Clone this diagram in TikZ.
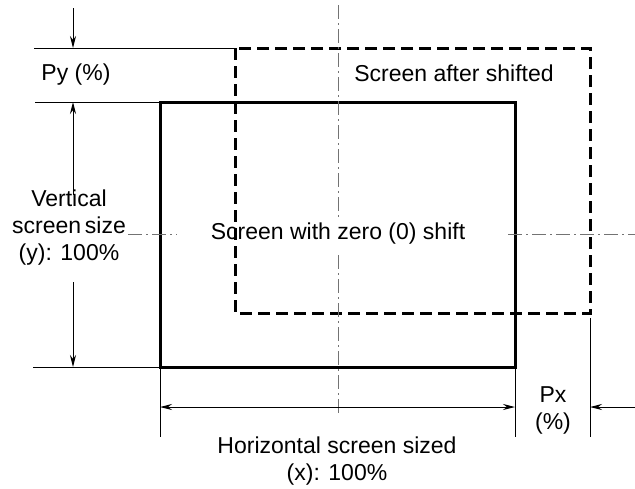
\documentclass[tikz,border=0pt]{standalone}
\usepackage{fontspec}
\setmainfont{Liberation Sans}
\usetikzlibrary{arrows.meta}
\begin{document}
\begin{tikzpicture}[x=1pt,y=-1pt,
  thinln/.style={line width=1pt},
  thickln/.style={line width=3pt},
  dashln/.style={line width=3pt, dash pattern=on 12pt off 6pt},
  axisln/.style={line width=1pt, black!55, dash pattern=on 14pt off 4pt on 2pt off 4pt},
  arr/.style={thinln,-{Stealth[length=12pt,width=6pt]}},
  dblarr/.style={thinln,{Stealth[length=12pt,width=6pt]}-{Stealth[length=12pt,width=6pt]}},
  lbl/.style={font=\fontsize{23}{27}\selectfont, inner sep=0pt, align=center}]
\useasboundingbox (0,0) rectangle (635,488);
% rectangles
\coordinate (sTL) at (160,102);
\coordinate (sBR) at (515,367);
\coordinate (dTL) at (235,48);
\coordinate (dBR) at (590,313);
\draw[thickln] (sTL) rectangle (sBR);
\draw[dashln] (dTL) rectangle (dBR);
% centre axes
\coordinate (vaT) at (338,5);
\coordinate (vaM1) at (338,218);
\coordinate (vaM2) at (338,255);
\coordinate (vaB) at (338,415);
\coordinate (haL1) at (128,234);
\coordinate (haL2) at (177,234);
\coordinate (haR1) at (508,234);
\coordinate (haR2) at (635,234);
\draw[axisln] (vaT) -- (vaM1);
\draw[axisln] (vaM2) -- (vaB);
\draw[axisln] (haL1) -- (haL2);
\draw[axisln] (haR1) -- (haR2);
% labels
\node[lbl] (py) at (76,75) {Py (\%)};
\node[lbl] (after) at (454,73) {Screen after shifted};
\node[lbl] (zero) at (338,234) {Screen with zero (0) shift};
\node[lbl] (vert) at (69,228) {Vertical\\screen\,size\\(y): 100\%};
\node[lbl] (horiz) at (337,461) {Horizontal screen sized\\(x): 100\%};
\node[lbl] (px) at (553,410) {Px\\(\%)};
% extension lines left
\coordinate (e1) at (34,48);
\coordinate (e2) at (35,102);
\coordinate (e3) at (33,367);
\draw[thinln] (e1) -- (dTL);
\draw[thinln] (e2) -- (sTL);
\draw[thinln] (e3) -- (sTL |- sBR);
% vertical arrows
\coordinate (a1s) at (73,8);
\coordinate (a1e) at (73,48);
\coordinate (a2s) at (73,195);
\coordinate (a2e) at (73,102);
\coordinate (a3s) at (73,282);
\coordinate (a3e) at (73,367);
\draw[arr] (a1s) -- (a1e);
\draw[arr] (a2s) -- (a2e);
\draw[arr] (a3s) -- (a3e);
% extension lines bottom
\coordinate (b1) at (160,437);
\coordinate (b2) at (515,437);
\coordinate (b3t) at (590,318);
\coordinate (b3) at (590,437);
\draw[thinln] (sTL |- sBR) -- (b1);
\draw[thinln] (sBR) -- (b2);
\draw[thinln] (b3t) -- (b3);
% horizontal arrows
\coordinate (h1) at (160,407);
\coordinate (h2) at (515,407);
\coordinate (h3s) at (635,407);
\coordinate (h3e) at (590,407);
\draw[dblarr] (h1) -- (h2);
\draw[arr] (h3s) -- (h3e);
\end{tikzpicture}
\end{document}
